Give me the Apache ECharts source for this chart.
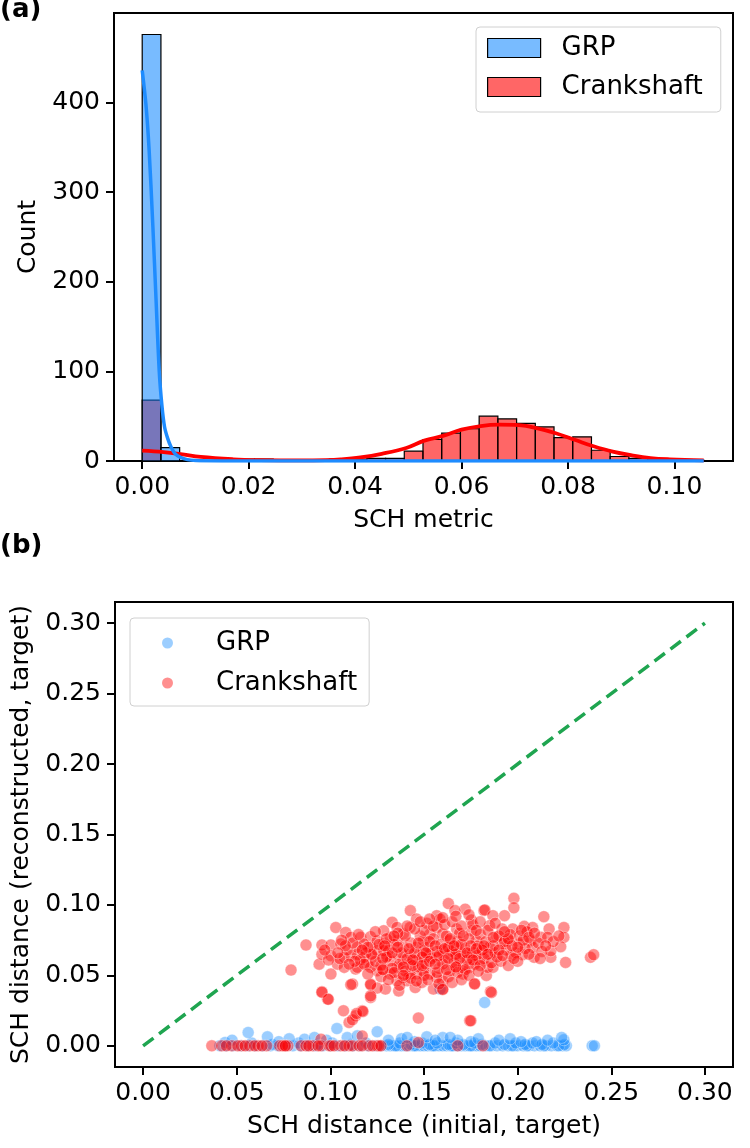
<!DOCTYPE html>
<html>
<head>
<meta charset="utf-8">
<script src="https://cdn.jsdelivr.net/npm/echarts@6/dist/echarts.min.js"></script>
<style>
  html, body { margin: 0; padding: 0; background: #fff; }
  #main { width: 750px; height: 1148px; }
</style>
</head>
<body>
<div id="main"></div>
<script>
// ---- (a) histogram: 30 shared bins of SCH metric
const binWidth = 0.003517;
const grpCounts = [476, 15, 0, 0, 0, 0, 0, 0, 0, 0, 0, 0, 0, 0, 0, 0, 0, 0, 0, 0, 0, 0, 0, 0, 0, 0, 0, 0, 0, 0];
const crankCounts = [68, 0, 0, 0, 1, 2, 2, 1, 0, 1, 2, 2, 3, 3, 11, 24, 31, 36, 50, 47, 42, 38, 26, 27, 12, 5, 3, 2, 1, 1];

// kde curves
const grpKde = [[0, 436], [0.0007, 398], [0.0013, 347], [0.002, 262], [0.0026, 180], [0.0032, 100], [0.0037, 62],
  [0.0042, 38], [0.0048, 25], [0.0054, 16], [0.0062, 8], [0.0072, 4], [0.0085, 1.5], [0.01, 0.5], [0.015, 0.1],
  [0.03, 0], [0.06, 0], [0.09, 0], [0.1055, 0]];
const crankKde = [[0, 11.5], [0.004, 10], [0.0072, 7.8], [0.011, 4.5], [0.0171, 1.9], [0.022, 1], [0.0298, 0.6],
  [0.0345, 1], [0.0373, 1.8], [0.041, 4], [0.045, 8], [0.0496, 14.5], [0.053, 22.7], [0.0565, 28], [0.06, 35],
  [0.0636, 39], [0.067, 40.5], [0.0708, 40], [0.0743, 36.5], [0.0777, 31], [0.0814, 23.4], [0.0848, 16.4],
  [0.0884, 10.4], [0.092, 6.3], [0.0955, 3.3], [0.0991, 1.9], [0.1055, 0.7]];

const histXTicks = [0, 0.02, 0.04, 0.06, 0.08, 0.1];
const histYTicks = [0, 100, 200, 300, 400];

// ---- (b) scatter: [initial distance, reconstructed distance]
const grpPoints = [
  [0.041, 0], [0.044, 0], [0.048, 0], [0.052, 0], [0.056, 0], [0.06, 0], [0.064, 0], [0.068, 0], [0.072, 0],
  [0.076, 0], [0.08, 0], [0.084, 0], [0.088, 0], [0.092, 0], [0.096, 0], [0.1, 0], [0.104, 0], [0.108, 0],
  [0.112, 0], [0.116, 0], [0.12, 0], [0.124, 0], [0.127, 0], [0.13, 0], [0.132, 0], [0.134, 0], [0.136, 0],
  [0.138, 0], [0.14, 0], [0.142, 0], [0.144, 0], [0.146, 0], [0.148, 0], [0.15, 0], [0.152, 0], [0.154, 0],
  [0.156, 0], [0.158, 0], [0.16, 0], [0.162, 0], [0.164, 0], [0.166, 0], [0.168, 0], [0.17, 0], [0.172, 0],
  [0.174, 0], [0.176, 0], [0.178, 0], [0.18, 0], [0.183, 0], [0.186, 0], [0.189, 0], [0.192, 0], [0.195, 0],
  [0.198, 0], [0.2, 0], [0.203, 0], [0.206, 0], [0.209, 0], [0.212, 0], [0.215, 0], [0.218, 0], [0.221, 0],
  [0.224, 0], [0.226, 0], [0.2398, 0], [0.241, 0], [0.135, 0], [0.145, 0], [0.155, 0], [0.165, 0], [0.175, 0],
  [0.185, 0], [0.197, 0], [0.205, 0], [0.214, 0], [0.222, 0],
  [0.131, 0.001], [0.137, 0.002], [0.143, 0.001], [0.149, 0.002], [0.153, 0.001], [0.157, 0.002], [0.163, 0.001],
  [0.167, 0.002], [0.171, 0.001], [0.177, 0.002], [0.181, 0.001], [0.188, 0.002], [0.193, 0.001], [0.199, 0.002],
  [0.204, 0.001], [0.208, 0.002], [0.213, 0.001], [0.219, 0.002], [0.225, 0.001], [0.119, 0.002], [0.111, 0.001],
  [0.101, 0.002], [0.093, 0.001], [0.083, 0.002], [0.069, 0.001], [0.058, 0.002],
  [0.0561, 0.0095], [0.0664, 0.0064], [0.0438, 0.0024], [0.0862, 0.0047], [0.0915, 0.0059], [0.1035, 0.0123],
  [0.109, 0.0059], [0.1144, 0.0071], [0.125, 0.010], [0.1515, 0.0064], [0.16, 0.0059], [0.2018, 0.003],
  [0.2247, 0.0043], [0.1824, 0.0308], [0.1586, 0.0403], [0.0475, 0.004], [0.0725, 0.003], [0.078, 0.005],
  [0.098, 0.004], [0.131, 0.004], [0.138, 0.005], [0.145, 0.003], [0.168, 0.004], [0.175, 0.003], [0.19, 0.004],
  [0.21, 0.003], [0.2235, 0.006], [0.141, 0.006], [0.156, 0.004], [0.164, 0.006], [0.179, 0.005], [0.196, 0.005],
  [0.216, 0.004]
];
const crankPoints = [
  // upper edge of the cloud
  [0.198, 0.1047], [0.198, 0.098], [0.163, 0.101], [0.182, 0.096], [0.1825, 0.0965], [0.172, 0.097], [0.1665, 0.096],
  [0.1427, 0.096], [0.193, 0.0924], [0.214, 0.0917], [0.1868, 0.0924], [0.1753, 0.0893], [0.1568, 0.0924],
  [0.1585, 0.090], [0.1515, 0.087], [0.146, 0.090], [0.133, 0.0877], [0.1029, 0.084], [0.2247, 0.084],
  [0.2247, 0.077], [0.2168, 0.083], [0.2035, 0.0848], [0.208, 0.084], [0.1974, 0.083], [0.1917, 0.083],
  [0.185, 0.0853], [0.1753, 0.0817], [0.1674, 0.083], [0.1082, 0.0805], [0.087, 0.0716], [0.079, 0.0538],
  [0.094, 0.058], [0.0955, 0.065], [0.0955, 0.0716], [0.1003, 0.0716], [0.1056, 0.0723], [0.1109, 0.077],
  [0.1162, 0.077], [0.1215, 0.0775], [0.1003, 0.064], [0.1003, 0.051], [0.1038, 0.058], [0.1074, 0.0557],
  [0.111, 0.064], [0.1144, 0.065], [0.1135, 0.0545], [0.1197, 0.058], [0.1232, 0.0628], [0.1215, 0.070],
  [0.1285, 0.0723], [0.1303, 0.064], [0.1285, 0.0545], [0.125, 0.0533], [0.1215, 0.0439], [0.1294, 0.0403],
  [0.1365, 0.039], [0.141, 0.0462], [0.1453, 0.0414], [0.1488, 0.045], [0.155, 0.0403], [0.16, 0.0403],
  [0.1118, 0.0439], [0.0955, 0.0384], [0.0985, 0.0332], [0.107, 0.0249], [0.11, 0.0166], [0.1135, 0.0213],
  [0.117, 0.0249], [0.1215, 0.0344], [0.147, 0.0197], [0.1744, 0.0178], [0.1855, 0.0386], [0.1833, 0.050],
  [0.177, 0.0443], [0.184, 0.0557], [0.1868, 0.0557], [0.1965, 0.064], [0.2027, 0.0647], [0.2088, 0.0628],
  [0.2177, 0.0628], [0.2177, 0.0675], [0.223, 0.0704], [0.2256, 0.0592], [0.2389, 0.0628], [0.2406, 0.0647],
  [0.207, 0.0746], [0.2124, 0.077], [0.216, 0.077], [0.208, 0.070], [0.2009, 0.0723], [0.1956, 0.0746],
  [0.192, 0.0723], [0.1886, 0.077], [0.185, 0.070], [0.185, 0.065], [0.1797, 0.0604], [0.1815, 0.0675],
  [0.178, 0.0746], [0.1744, 0.0628], [0.1744, 0.0557], [0.1709, 0.051], [0.1674, 0.0557], [0.1638, 0.0533],
  [0.16, 0.0462], [0.1568, 0.0485], [0.1532, 0.051], [0.1497, 0.0533], [0.146, 0.051], [0.1426, 0.051],
  [0.139, 0.0485], [0.1356, 0.0462], [0.132, 0.051], [0.1356, 0.0557], [0.139, 0.0604], [0.1426, 0.065],
  [0.146, 0.070], [0.1497, 0.0746], [0.1532, 0.0794], [0.1568, 0.084], [0.16, 0.0794], [0.1638, 0.0746],
  [0.1674, 0.070], [0.1709, 0.065], [0.1674, 0.0628], [0.1638, 0.065], [0.16, 0.0675], [0.1568, 0.0628],
  [0.1532, 0.065], [0.1497, 0.0628], [0.146, 0.0604], [0.1426, 0.058], [0.1497, 0.0675], [0.139, 0.070],
  [0.1356, 0.0746], [0.132, 0.077], [0.139, 0.0794], [0.1426, 0.084], [0.1356, 0.084], [0.1285, 0.0817],
  [0.125, 0.0746], [0.125, 0.0675], [0.1179, 0.0723], [0.1144, 0.070], [0.1179, 0.0628], [0.1074, 0.0628],
  [0.1144, 0.0557], [0.1215, 0.0557], [0.132, 0.0604], [0.1356, 0.065], [0.1285, 0.0675],
  // dense middle
  [0.124, 0.060], [0.127, 0.057], [0.131, 0.068], [0.134, 0.072], [0.137, 0.058], [0.138, 0.066], [0.141, 0.062],
  [0.143, 0.073], [0.145, 0.066], [0.147, 0.056], [0.148, 0.078], [0.151, 0.058], [0.152, 0.070], [0.154, 0.062],
  [0.155, 0.076], [0.158, 0.055], [0.159, 0.072], [0.161, 0.061], [0.162, 0.078], [0.165, 0.067], [0.166, 0.059],
  [0.168, 0.074], [0.169, 0.08], [0.171, 0.057], [0.172, 0.069], [0.174, 0.076], [0.176, 0.066], [0.177, 0.058],
  [0.179, 0.071], [0.18, 0.079], [0.182, 0.062], [0.183, 0.074], [0.186, 0.059], [0.188, 0.066], [0.19, 0.078],
  [0.191, 0.06], [0.194, 0.068], [0.196, 0.079], [0.199, 0.066], [0.201, 0.078], [0.204, 0.069], [0.205, 0.081],
  [0.211, 0.073], [0.213, 0.067], [0.219, 0.074], [0.222, 0.078], [0.126, 0.072], [0.119, 0.066], [0.116, 0.061],
  [0.109, 0.068], [0.105, 0.062], [0.112, 0.073], [0.13, 0.076], [0.133, 0.055], [0.14, 0.053], [0.144, 0.057],
  [0.149, 0.063], [0.153, 0.074], [0.157, 0.067], [0.16, 0.058], [0.163, 0.07], [0.167, 0.065], [0.17, 0.072],
  [0.173, 0.061], [0.175, 0.071], [0.178, 0.064], [0.181, 0.068], [0.184, 0.082], [0.187, 0.071], [0.189, 0.063],
  [0.193, 0.074], [0.195, 0.057], [0.197, 0.071], [0.2, 0.06], [0.203, 0.075], [0.206, 0.065], [0.15, 0.082],
  [0.155, 0.085], [0.161, 0.086], [0.165, 0.088], [0.17, 0.085], [0.176, 0.086], [0.18, 0.088], [0.145, 0.083],
  [0.14, 0.078], [0.136, 0.08], [0.13, 0.063], [0.122, 0.065], [0.118, 0.058], [0.113, 0.06], [0.108, 0.071],
  [0.099, 0.061], [0.097, 0.068], [0.104, 0.066], [0.12, 0.051], [0.127, 0.049], [0.134, 0.052], [0.143, 0.048],
  [0.15, 0.05], [0.157, 0.052], [0.163, 0.049], [0.168, 0.052], [0.172, 0.054], [0.165, 0.045], [0.158, 0.044],
  [0.17, 0.047], [0.152, 0.047], [0.137, 0.043], [0.131, 0.047], [0.125, 0.041],
  [0.128, 0.062], [0.133, 0.066], [0.136, 0.07], [0.139, 0.056], [0.142, 0.069], [0.144, 0.061], [0.147, 0.073],
  [0.149, 0.057], [0.151, 0.066], [0.153, 0.06], [0.156, 0.071], [0.158, 0.064], [0.161, 0.069], [0.163, 0.062],
  [0.164, 0.076], [0.166, 0.071], [0.169, 0.062], [0.171, 0.078], [0.173, 0.066], [0.176, 0.061], [0.178, 0.069],
  [0.18, 0.057], [0.182, 0.071], [0.184, 0.065], [0.187, 0.077], [0.19, 0.068], [0.192, 0.064], [0.195, 0.076],
  [0.198, 0.062], [0.2, 0.07], [0.202, 0.082], [0.206, 0.077], [0.209, 0.08], [0.212, 0.062], [0.215, 0.071],
  [0.12, 0.07], [0.117, 0.068], [0.11, 0.058], [0.106, 0.075], [0.115, 0.079], [0.124, 0.081], [0.129, 0.071],
  [0.134, 0.078], [0.141, 0.085], [0.148, 0.088], [0.153, 0.09], [0.16, 0.091], [0.167, 0.092], [0.174, 0.093],
  [0.178, 0.082], [0.188, 0.087], [0.193, 0.081], [0.156, 0.058], [0.162, 0.054], [0.167, 0.056], [0.174, 0.05],
  [0.179, 0.053], [0.146, 0.046], [0.139, 0.05], [0.128, 0.054],
  // low stragglers
  [0.0955, 0.038], [0.0989, 0.033], [0.1118, 0.0185], [0.114, 0.023], [0.1174, 0.0244], [0.1109, 0.0434],
  [0.1215, 0.0434], [0.1215, 0.0355], [0.175, 0.0178], [0.186, 0.0379], [0.177, 0.0439], [0.16, 0.040],
  [0.117, 0.007], [0.095, 0.0047], [0.147, 0.0024],
  // collapsed to zero
  [0.0367, 0], [0.042, 0], [0.0473, 0], [0.0526, 0], [0.057, 0], [0.0614, 0], [0.0659, 0], [0.0729, 0],
  [0.0756, 0], [0.0773, 0], [0.0844, 0], [0.0906, 0], [0.095, 0], [0.0994, 0], [0.1003, 0], [0.1056, 0],
  [0.11, 0], [0.1118, 0], [0.1153, 0], [0.1206, 0], [0.125, 0], [0.1259, 0], [0.1409, 0], [0.168, 0],
  [0.1815, 0], [0.0445, 0], [0.0505, 0], [0.0545, 0], [0.0595, 0], [0.0635, 0], [0.0745, 0], [0.076, 0],
  [0.087, 0], [0.0885, 0], [0.0935, 0], [0.102, 0], [0.1075, 0], [0.117, 0], [0.1225, 0], [0.127, 0]
];
const diagonal = [[0, 0], [0.3, 0.3]];
const scatterTicks = [0, 0.05, 0.1, 0.15, 0.2, 0.25, 0.3];

// colours
const GRP_BAR = 'rgba(10,132,255,0.55)';
const CRANK_BAR = 'rgba(255,0,0,0.6)';
const GRP_DOT = 'rgba(30,144,255,0.55)';
const CRANK_DOT = 'rgba(255,0,0,0.55)';

const FONT = 'DejaVu Sans';
const TXT = { fontFamily: FONT, fontSize: 25, color: '#000' };

function toBins(counts) {
  return counts.map((c, i) => [i * binWidth, (i + 1) * binWidth, c]);
}

function histItem(fill) {
  return function (params, api) {
    const c = api.value(2);
    if (!c) return null;
    const p0 = api.coord([api.value(0), c]);
    const p1 = api.coord([api.value(1), 0]);
    return {
      type: 'rect',
      shape: { x: p0[0], y: p0[1], width: p1[0] - p0[0], height: p1[1] - p0[1] },
      style: { fill: fill, stroke: '#000', lineWidth: 1.2 }
    };
  };
}

// tick values are given explicitly so that they land on round numbers
function valueAxis(idx, min, max, ticks, digits, name, gap, margin) {
  return {
    type: 'value', gridIndex: idx, min: min, max: max,
    name: name, nameLocation: 'middle', nameGap: gap, nameTextStyle: TXT,
    axisLine: { show: true, onZero: false, lineStyle: { color: '#000', width: 2 } },
    splitLine: { show: false },
    axisTick: { show: true, length: 8, lineStyle: { color: '#000', width: 2 }, customValues: ticks },
    axisLabel: Object.assign({ margin: margin, customValues: ticks, formatter: v => v.toFixed(digits) }, TXT)
  };
}

const chart = echarts.init(document.getElementById('main'));

const option = {
  animation: false,
  backgroundColor: '#fff',
  title: [
    { text: '(a)', left: 0, top: -3, padding: 0, textStyle: { fontFamily: FONT, fontSize: 26, fontWeight: 'bold', color: '#000' } },
    { text: '(b)', left: 0, top: 533, padding: 0, textStyle: { fontFamily: FONT, fontSize: 26, fontWeight: 'bold', color: '#000' } }
  ],
  grid: [
    { left: 114, right: 17, top: 13, height: 448, show: true, borderColor: '#000', borderWidth: 2, backgroundColor: 'transparent' },
    { left: 115, right: 17, top: 602, height: 465, show: true, borderColor: '#000', borderWidth: 2, backgroundColor: 'transparent' }
  ],
  xAxis: [
    valueAxis(0, -0.0053, 0.111, histXTicks, 2, 'SCH metric', 47, 14),
    valueAxis(1, -0.015, 0.315, scatterTicks, 2, 'SCH distance (initial, target)', 47, 14)
  ],
  yAxis: [
    valueAxis(0, 0, 500, histYTicks, 0, 'Count', 64, 14),
    valueAxis(1, -0.015, 0.315, scatterTicks, 2, 'SCH distance (reconstructed, target)', 75, 14)
  ],
  legend: [
    {
      orient: 'vertical', left: 476, top: 27,
      padding: [7, 18, 11, 11], itemGap: 11, itemWidth: 53, itemHeight: 19,
      backgroundColor: '#fff', borderColor: '#d0d0d0', borderWidth: 1, borderRadius: 4,
      textStyle: Object.assign({}, TXT, { fontSize: 26, lineHeight: 28, padding: [0, 0, 0, 16] }),
      formatter: name => name.split(' ')[0],
      data: [
        { name: 'GRP hist', icon: 'rect', itemStyle: { color: GRP_BAR, borderColor: '#000', borderWidth: 1.2 } },
        { name: 'Crankshaft hist', icon: 'rect', itemStyle: { color: CRANK_BAR, borderColor: '#000', borderWidth: 1.2 } }
      ]
    },
    {
      orient: 'vertical', left: 130, top: 618,
      padding: [11, 12, 9, 32], itemGap: 12, itemWidth: 11, itemHeight: 11,
      backgroundColor: '#fff', borderColor: '#d0d0d0', borderWidth: 1, borderRadius: 4,
      textStyle: Object.assign({}, TXT, { fontSize: 26, lineHeight: 28, padding: [0, 0, 0, 38] }),
      formatter: name => name.split(' ')[0],
      data: [
        { name: 'GRP dots', icon: 'circle', itemStyle: { color: GRP_DOT, borderWidth: 0 } },
        { name: 'Crankshaft dots', icon: 'circle', itemStyle: { color: CRANK_DOT, borderWidth: 0 } }
      ]
    }
  ],
  series: [
    {
      name: 'Crankshaft hist', type: 'custom', xAxisIndex: 0, yAxisIndex: 0,
      renderItem: histItem(CRANK_BAR), itemStyle: { color: CRANK_BAR },
      encode: { x: [0, 1], y: 2 }, data: toBins(crankCounts), z: 2
    },
    {
      name: 'GRP hist', type: 'custom', xAxisIndex: 0, yAxisIndex: 0,
      renderItem: histItem(GRP_BAR), itemStyle: { color: GRP_BAR },
      encode: { x: [0, 1], y: 2 }, data: toBins(grpCounts), z: 3
    },
    {
      name: 'Crankshaft kde', type: 'line', xAxisIndex: 0, yAxisIndex: 0,
      data: crankKde, smooth: 0.4, symbol: 'none', z: 4,
      lineStyle: { color: '#ff0000', width: 3.8 }
    },
    {
      name: 'GRP kde', type: 'line', xAxisIndex: 0, yAxisIndex: 0,
      data: grpKde, smooth: 0.3, symbol: 'none', z: 5,
      lineStyle: { color: '#1e8cff', width: 3.5 }
    },
    {
      name: 'diagonal', type: 'line', xAxisIndex: 1, yAxisIndex: 1,
      data: diagonal, symbol: 'none', z: 2,
      lineStyle: { color: '#1fa550', width: 3.5, type: [13, 7] }
    },
    {
      name: 'GRP dots', type: 'scatter', xAxisIndex: 1, yAxisIndex: 1,
      data: grpPoints, symbolSize: 12, z: 3,
      itemStyle: { color: GRP_DOT, borderColor: 'rgba(255,255,255,0.6)', borderWidth: 0.8 }
    },
    {
      name: 'Crankshaft dots', type: 'scatter', xAxisIndex: 1, yAxisIndex: 1,
      data: crankPoints, symbolSize: 12, z: 4,
      itemStyle: { color: CRANK_DOT, borderColor: 'rgba(255,255,255,0.6)', borderWidth: 0.8 }
    }
  ]
};

chart.setOption(option);
</script>
</body>
</html>
